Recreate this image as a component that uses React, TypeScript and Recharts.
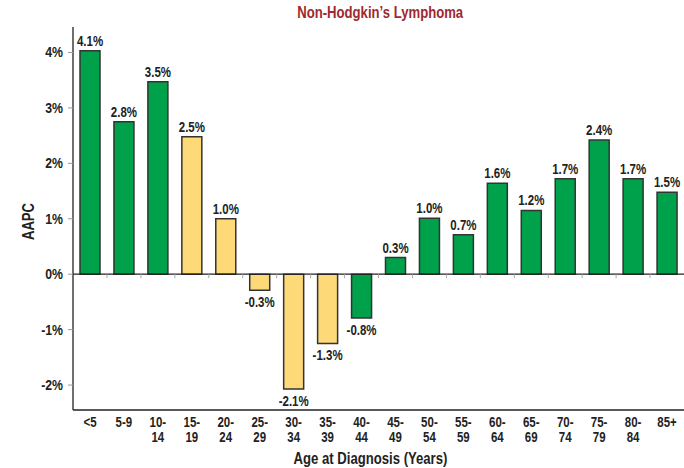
import React from 'react'
import { BarChart, Bar, XAxis, YAxis, Cell, LabelList, ReferenceLine, Label } from 'recharts'

const ageGroups = ['<5', '5-9', '10-14', '15-19', '20-24', '25-29', '30-34', '35-39', '40-44',
  '45-49', '50-54', '55-59', '60-64', '65-69', '70-74', '75-79', '80-84', '85+']
// bar heights, labels as printed
const aapc = [4.03, 2.75, 3.47, 2.48, 1.0, -0.29, -2.07, -1.25, -0.79, 0.3, 1.01, 0.71, 1.64, 1.15, 1.72, 2.42, 1.72, 1.48]
const aapcLabels = ['4.1%', '2.8%', '3.5%', '2.5%', '1.0%', '-0.3%', '-2.1%', '-1.3%', '-0.8%', '0.3%', '1.0%',
  '0.7%', '1.6%', '1.2%', '1.7%', '2.4%', '1.7%', '1.5%']
// adolescent & young adult groups drawn in yellow
const ayaGroups = ['15-19', '20-24', '25-29', '30-34', '35-39']
const yTicks = [-2, -1, 0, 1, 2, 3, 4]

const data = ageGroups.map((age, i) => ({ age, aapc: aapc[i], label: aapcLabels[i] }))

// no narrow font installed, so squeeze Liberation Sans horizontally
const FONT = "'Liberation Sans', Arial, sans-serif"
const SQUEEZE = 0.82
const GREEN = '#00a14b'
const YELLOW = '#fdd978'
const INK = '#222'

function NarrowText(props: any) {
  const { x, y, anchor = 'middle', size = 13, fill = INK, angle = 0, children } = props
  return (
    <g transform={`translate(${x},${y}) rotate(${angle}) scale(${SQUEEZE},1)`}>
      <text x={0} y={0} textAnchor={anchor} fontSize={size} fontWeight="bold" fontFamily={FONT} fill={fill}>
        {children}
      </text>
    </g>
  )
}

function AgeTick(props: any) {
  const { x, y, payload } = props
  const v = String(payload.value)
  const cut = v.indexOf('-') + 1
  const lines = v.length > 3 ? [v.slice(0, cut), v.slice(cut)] : [v]
  return (
    <g>
      {lines.map((l, i) => (
        <NarrowText key={i} x={x} y={y + 17 + i * 15} size={14}>{l}</NarrowText>
      ))}
    </g>
  )
}

function PctTick(props: any) {
  const { x, y, payload } = props
  return <NarrowText x={x} y={y + 5} anchor="end" size={15}>{`${payload.value}%`}</NarrowText>
}

function BarValue(props: any) {
  const { x, y, width, height, value } = props
  const top = Math.min(y, y + height)
  const bottom = Math.max(y, y + height)
  const neg = String(value).startsWith('-')
  return (
    <NarrowText x={x + width / 2} y={neg ? bottom + 17 : top - 5} size={14}>{value}</NarrowText>
  )
}

function ZeroLine(props: any) {
  const { x1, x2, y1 } = props
  const step = (x2 - x1) / ageGroups.length
  return (
    <g>
      <line x1={x1} x2={x2} y1={y1} y2={y1} stroke={INK} strokeWidth={1.3} />
      {ageGroups.slice(1).map((_, i) => (
        <line key={i} x1={x1 + step * (i + 1)} x2={x1 + step * (i + 1)} y1={y1} y2={y1 + 4} stroke="#aaa" />
      ))}
    </g>
  )
}

function YTitle(props: any) {
  const vb = props.viewBox
  return <NarrowText x={vb.x + 34} y={vb.y + vb.height / 2 + 3} angle={-90} size={16}>AAPC</NarrowText>
}

function XTitle(props: any) {
  const vb = props.viewBox
  return <NarrowText x={vb.x + vb.width / 2 - 8} y={vb.y + vb.height - 4} size={16}>Age at Diagnosis (Years)</NarrowText>
}

export default function App() {
  return (
    <div style={{ position: 'absolute', left: 0, top: 0, width: 684, height: 468, background: '#fff' }}>
      <div style={{
        position: 'absolute', left: 279, top: 4, width: 200, textAlign: 'center', fontFamily: FONT,
        fontSize: 16, fontWeight: 'bold', color: '#a0282d', lineHeight: '18px'
      }}>
        <span style={{ display: 'inline-block', transform: `scaleX(${SQUEEZE})`, whiteSpace: 'nowrap' }}>
          Non-Hodgkin’s Lymphoma
        </span>
      </div>
      <BarChart width={684} height={468} data={data} margin={{ top: 27, right: 0, bottom: 0, left: 0 }} barSize={20}>
        <YAxis
          width={73}
          domain={[-2.45, 4.46]}
          ticks={yTicks}
          allowDataOverflow
          axisLine={{ stroke: INK, strokeWidth: 1.3 }}
          tickLine={{ stroke: '#999' }}
          tickSize={5}
          tickMargin={5}
          tick={<PctTick />}
        >
          <Label content={<YTitle />} />
        </YAxis>
        <XAxis
          dataKey="age"
          height={58}
          interval={0}
          axisLine={{ stroke: INK, strokeWidth: 1.3 }}
          tickLine={false}
          tickSize={0}
          tickMargin={0}
          tick={<AgeTick />}
        >
          <Label content={<XTitle />} />
        </XAxis>
        <Bar dataKey="aapc" stroke="#333" strokeWidth={1.5} isAnimationActive={false}>
          {data.map((d) => (
            <Cell key={d.age} fill={ayaGroups.includes(d.age) ? YELLOW : GREEN} />
          ))}
          <LabelList dataKey="label" content={<BarValue />} />
        </Bar>
        <ReferenceLine y={0} shape={<ZeroLine />} />
      </BarChart>
    </div>
  )
}
